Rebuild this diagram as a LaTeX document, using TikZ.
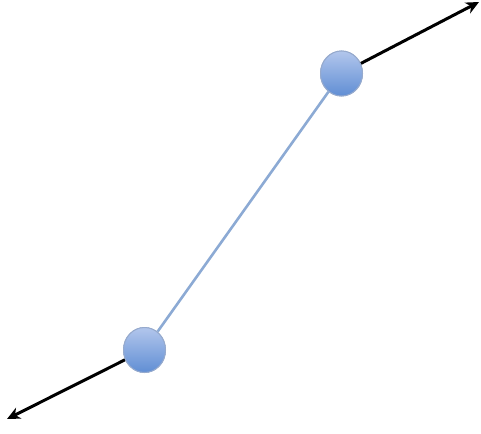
\documentclass[tikz,border=0pt]{standalone}
\usetikzlibrary{arrows.meta,shadings,shapes.geometric}
\definecolor{linkblue}{RGB}{140,170,212}
\definecolor{balltop}{RGB}{178,198,236}
\definecolor{ballbot}{RGB}{96,142,212}
\definecolor{ballrim}{RGB}{150,170,205}
\tikzset{
  ball/.style={ellipse, minimum width=42pt, minimum height=45pt, inner sep=0pt,
    draw=ballrim, line width=1pt, top color=balltop, bottom color=ballbot},
  link/.style={draw=linkblue, line width=2.6pt},
  pointer/.style={draw=black, line width=3pt, -{Stealth[length=13pt,width=12pt,inset=4pt]}}
}
\begin{document}
\begin{tikzpicture}[x=1pt,y=-1pt]
\useasboundingbox (0,0) rectangle (481,433);
\coordinate (endA) at (479,2);
\coordinate (endB) at (7,419);
\node[ball] (top) at (341.5,73.5) {};
\node[ball] (bot) at (144.5,350) {};
\draw[link] (top) -- (bot);
\draw[pointer] (top) -- (endA);
\draw[pointer] (bot) -- (endB);
\node[ball] at (top) {};
\node[ball] at (bot) {};
\end{tikzpicture}
\end{document}
